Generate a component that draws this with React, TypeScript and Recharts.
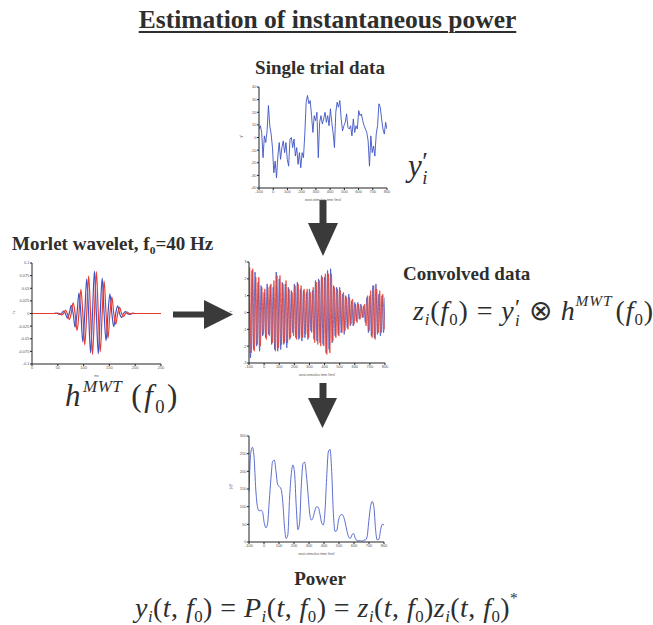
import React from "react";
import { LineChart, Line, XAxis, YAxis } from "recharts";

// tick labels
const timeTicks = [-100, 0, 100, 200, 300, 400, 500, 600, 700, 800];
const trialTicksY = [-40, -30, -20, -10, 0, 10, 20, 30, 40];
const waveletTicksX = [0, 50, 100, 150, 200, 250];
const waveletTicksY = [-0.1, -0.075, -0.05, -0.025, 0, 0.025, 0.05, 0.075, 0.1];
const convTicksY = [-3, -2, -1, 0, 1, 2, 3];
const powerTicksY = [0, 50, 100, 150, 200, 250, 300];

// single trial data, -100..800 ms
const trialValues = [
  6.7, 9.3, 4, -16, 1.3, -4, 5.3, 25.3, 9.3, 2.7,
  -8, -28, -18.7, -32, -14.7, -4, -17.3, -8, -2.7, -12,
  -4, -17.3, -22.7, -1.3, 0, -8, -1.3, -14.7, -8, -21.3,
  -12, -24, -12, -16, 2.7, 28, 33.3, 26.7, 29.3, 17.3,
  4, 17.3, 13.3, 20, -16, 12, 17.3, 10.7, 14.7, 20,
  12, 17.3, 9.3, 22.7, 12, 4, -8, 20, 28, 24,
  29.3, 14.7, 5.3, 9.3, 12, 18.7, 8, 6.7, 9.3, 1.3,
  14.7, 4, 9.3, 6.7, 21.3, 17.3, 18.7, 13.3, 9.3, 6.7,
  4, -2.7, -22.7, 1.3, -12, -6.7, -14.7, 2.7, 9.3, 26.7,
  24, 14.7, 6.7, 2.7, 12, 6.7,
];

// morlet wavelet, real (blue) and imaginary (red) part
const waveletReal = [
  0, 0, 0.001, 0, -0.002, 0, 0.005, 0, -0.009, 0,
  0.016, 0, -0.027, 0, 0.041, 0, -0.056, 0, 0.068, 0,
  -0.078, 0, 0.084, 0, -0.08, 0, 0.07, 0, -0.054, 0,
  0.039, 0, -0.026, 0, 0.015, 0, -0.008, 0, 0.004, 0,
  -0.002, 0, 0.001, 0, 0,
];
const waveletImag = [
  0, 0, 0, 0.001, 0, -0.003, 0, 0.006, 0, -0.012,
  0, 0.021, 0, -0.034, 0, 0.048, 0, -0.062, 0, 0.074,
  0, -0.081, 0, 0.083, 0, -0.076, 0, 0.064, 0, -0.049,
  0, 0.033, 0, -0.021, 0, 0.012, 0, -0.006, 0, 0.003,
  0, -0.001, 0, 0, 0,
];

// convolved data, peaks and troughs
const convReal = [
  2.6, -2.7, 2.5, -2.2, 2.4, -2.0, 1.8, -2.3, 1.6, -1.4,
  1.2, -1.5, 1.7, -1.3, 1.6, -1.9, 1.5, -2.2, 2.4, -2.3,
  2.0, -2.2, 1.8, -1.9, 1.7, -2.1, 1.5, -1.6, 1.3, -1.2,
  1.7, -1.5, 1.8, -1.6, 1.4, -1.7, 1.3, -1.5, 1.2, -1.6,
  1.4, -1.1, 1.3, -1.6, 1.9, -1.7, 2.0, -1.8, 2.2, -1.9,
  2.1, -2.4, 2.5, -2.2, 2.6, -1.8, 1.6, -1.4, 1.5, -1.3,
  1.5, -1.2, 1.1, -1.3, 1.0, -0.9, 1.1, -0.8, 0.7, -0.8,
  0.6, -0.5, 0.6, -0.4, 0.5, -0.3, 0.4, -0.6, 0.9, -1.2,
  1.0, -1.4, 1.6, -1.5, 1.7, -1.3, 1.1, -1.4, 1.0, -1.2,
  0.9,
];
const convImag = [
  2.7, -2.4, 2.6, -2.3, 2.1, -1.9, 2.1, -2.0, 1.5, -1.3,
  1.4, -1.6, 1.5, -1.4, 1.7, -1.8, 1.9, -2.3, 2.2, -2.1,
  2.2, -1.9, 1.7, -1.8, 1.9, -1.8, 1.4, -1.5, 1.2, -1.4,
  1.6, -1.6, 1.7, -1.5, 1.6, -1.5, 1.4, -1.3, 1.4, -1.5,
  1.2, -1.2, 1.5, -1.8, 1.8, -1.9, 1.9, -2.0, 2.1, -2.0,
  2.3, -2.5, 2.3, -2.4, 2.3, -1.7, 1.5, -1.5, 1.4, -1.4,
  1.3, -1.2, 1.2, -1.1, 0.9, -1.0, 0.9, -0.7, 0.8, -0.7,
  0.5, -0.6, 0.5, -0.4, 0.4, -0.3, 0.5, -0.8, 1.0, -1.1,
  1.3, -1.5, 1.6, -1.6, 1.4, -1.2, 1.3, -1.2, 1.1, -1.0,
];

// power
const powerValues = [
  143, 250, 268, 240, 150, 100, 88, 90, 85, 55,
  40, 52, 115, 180, 228, 232, 200, 162, 157, 150,
  115, 45, 10, 20, 120, 190, 218, 195, 100, 35,
  55, 160, 222, 226, 190, 135, 80, 62, 70, 88,
  100, 98, 80, 55, 48, 85, 180, 255, 262, 200,
  80, 30, 32, 60, 75, 78, 72, 55, 32, 15,
  10, 20, 24, 10, 4, 3, 4, 2, 5, 6,
  15, 60, 100, 115, 100, 35, 6, 8, 35, 50,
  48,
];

const trialData = trialValues.map((v, i) => ({ t: -100 + (i * 900) / (trialValues.length - 1), v }));
const waveletData = [
  { t: 0, re: 0, im: 0 },
  ...waveletReal.map((re, i) => ({ t: 38.5 + i * 3.75, re, im: waveletImag[i] })),
  { t: 250, re: 0, im: 0 },
];
const convData: { t: number; re?: number; im?: number }[] = [];
convReal.forEach((re, i) => {
  convData.push({ t: -100 + i * 10, re });
  if (i < convImag.length) convData.push({ t: -95 + i * 10, im: convImag[i] });
});
const powerData = powerValues.map((v, i) => ({ t: -100 + (i * 900) / (powerValues.length - 1), v }));

const serif = '"Liberation Serif", "Times New Roman", serif';
const sans = '"Liberation Sans", Arial, sans-serif';
const ink = "#2e2e2e";
const blue = "#3d52c4";
const red = "#e63b2e";

const tickStyle = { fontSize: 4, fill: "#555", fontFamily: sans };

function Panel({ left, top, w, h, data, xTicks, yTicks, xDomain, yDomain, xLabel, yLabel, children }: any) {
  const yW = 20;
  const xH = 13;
  const mt = 3;
  const mr = 6;
  return (
    <div style={{ position: "absolute", left: left - yW, top: top - mt }}>
      <LineChart width={w + yW + mr} height={h + xH + mt} data={data} margin={{ top: mt, right: mr, bottom: 0, left: 0 }}>
        <XAxis
          dataKey="t"
          type="number"
          domain={xDomain}
          ticks={xTicks}
          interval={0}
          height={xH}
          tick={tickStyle}
          tickSize={2}
          tickMargin={0.5}
          stroke="#222"
          allowDataOverflow
          label={{ value: xLabel, position: "insideBottom", offset: 0, fontSize: 3.5, fill: "#555", fontFamily: sans }}
        />
        <XAxis xAxisId="top" orientation="top" dataKey="t" type="number" domain={xDomain} height={0} tick={false} tickLine={false} stroke="#222" />
        <YAxis
          type="number"
          domain={yDomain}
          ticks={yTicks}
          interval={0}
          width={yW}
          tick={tickStyle}
          tickSize={2}
          tickMargin={0.5}
          stroke="#222"
          allowDataOverflow
          label={{ value: yLabel, angle: -90, position: "insideLeft", offset: 2, fontSize: 4, fill: "#555", fontFamily: sans }}
        />
        <YAxis yAxisId="right" orientation="right" type="number" domain={yDomain} width={0} tick={false} tickLine={false} stroke="#222" />
        {children}
      </LineChart>
    </div>
  );
}

function Label({ x, baseline, size, bold, center, children, style }: any) {
  const base: React.CSSProperties = {
    position: "absolute",
    top: baseline - 0.8375 * size,
    fontSize: size,
    lineHeight: 1,
    fontFamily: serif,
    fontWeight: bold ? "bold" : "normal",
    color: ink,
    whiteSpace: "nowrap",
  };
  const pos = center ? { left: x - 250, width: 500, textAlign: "center" as const } : { left: x };
  return <div style={{ ...base, ...pos, ...style }}>{children}</div>;
}

const I = ({ children }: any) => <span style={{ fontStyle: "italic" }}>{children}</span>;
const Sub = ({ children, it, style }: any) => (
  <span style={{ fontSize: "0.6em", position: "relative", top: "0.35em", fontStyle: it ? "italic" : "normal", ...style }}>{children}</span>
);
const Sup = ({ children, it, style }: any) => (
  <span style={{ fontSize: "0.55em", position: "relative", top: "-0.85em", fontStyle: it ? "italic" : "normal", ...style }}>{children}</span>
);
const F0 = () => (
  <>
    <I>f</I>
    <Sub>0</Sub>
  </>
);
const TF = () => (
  <>
    (<I>t</I>, <F0 />)
  </>
);
// y with a prime above and subscript i below it
const YPrime = () => (
  <>
    <I>y</I>
    <span style={{ display: "inline-flex", flexDirection: "column", fontSize: "0.6em", lineHeight: 0.85, verticalAlign: "0.3em", marginLeft: "0.02em" }}>
      <span style={{ fontSize: "1.4em", lineHeight: 0.6 }}>′</span>
      <span style={{ fontStyle: "italic" }}>i</span>
    </span>
  </>
);

function Arrows() {
  return (
    <svg width={653} height={625} style={{ position: "absolute", left: 0, top: 0 }}>
      <g fill="#3a3a3a">
        <rect x={319.5} y={200} width={7} height={25} />
        <polygon points="308,223 338,223 323,256" />
        <rect x={173} y={311.5} width={34} height={6} />
        <polygon points="204,300 204,329 233,314.5" />
        <rect x={319.5} y={383} width={7} height={17} />
        <polygon points="308,398 337,398 322.5,428" />
      </g>
    </svg>
  );
}

export default function App() {
  return (
    <div style={{ position: "absolute", left: 0, top: 0, width: 653, height: 625, background: "#fff", overflow: "hidden" }}>
      <Arrows />
      <Label x={327.5} baseline={28} size={25.5} bold center style={{ textDecoration: "underline", textDecorationThickness: 1.5, textUnderlineOffset: 3 }}>
        Estimation of instantaneous power
      </Label>
      <Label x={320} baseline={74} size={19} bold center>
        Single trial data
      </Label>
      <Label x={12} baseline={250} size={19} bold>
        Morlet wavelet, f<Sub>0</Sub>=40 Hz
      </Label>
      <Label x={403} baseline={280} size={19} bold>
        Convolved data
      </Label>
      <Label x={320} baseline={585} size={19} bold center>
        Power
      </Label>

      <Label x={408} baseline={176} size={31}>
        <YPrime />
      </Label>
      <Label x={65} baseline={406} size={31} style={{ letterSpacing: 2.5 }}>
        <I>h</I>
        <Sup it style={{ marginRight: 9, letterSpacing: 0.5 }}>MWT</Sup>(<F0 />)
      </Label>
      <Label x={413} baseline={320} size={28} style={{ letterSpacing: 0.9 }}>
        <I>z</I>
        <Sub it>i</Sub>(<F0 />) = <YPrime /> ⊗ <I>h</I>
        <Sup it style={{ marginRight: 3 }}>MWT</Sup>(<F0 />)
      </Label>
      <Label x={135} baseline={617} size={28} style={{ letterSpacing: 0.45 }}>
        <I>y</I>
        <Sub it>i</Sub>
        <TF /> = <I>P</I>
        <Sub it>i</Sub>
        <TF /> = <I>z</I>
        <Sub it>i</Sub>
        <TF />
        <I>z</I>
        <Sub it>i</Sub>
        <TF />
        <Sup>*</Sup>
      </Label>

      <Panel left={259} top={87} w={128} h={101} data={trialData} xTicks={timeTicks} yTicks={trialTicksY} xDomain={[-100, 800]} yDomain={[-40, 40]} xLabel="post-stimulus time [ms]" yLabel="y'">
        <Line dataKey="v" type="linear" stroke={blue} strokeWidth={0.9} dot={false} isAnimationActive={false} />
      </Panel>

      <Panel left={32} top={263} w={129} h={101} data={waveletData} xTicks={waveletTicksX} yTicks={waveletTicksY} xDomain={[0, 250]} yDomain={[-0.1, 0.1]} xLabel="ms" yLabel="h">
        <Line dataKey="re" type="monotone" stroke={blue} strokeWidth={1.2} dot={false} isAnimationActive={false} />
        <Line dataKey="im" type="monotone" stroke={red} strokeWidth={1.2} dot={false} isAnimationActive={false} />
      </Panel>

      <Panel left={249} top={262} w={136} h={101} data={convData} xTicks={timeTicks} yTicks={convTicksY} xDomain={[-100, 800]} yDomain={[-3, 3]} xLabel="post-stimulus time [ms]" yLabel="z">
        <Line dataKey="re" type="monotone" connectNulls stroke={blue} strokeWidth={0.8} dot={false} isAnimationActive={false} />
        <Line dataKey="im" type="monotone" connectNulls stroke={red} strokeWidth={0.8} dot={false} isAnimationActive={false} />
      </Panel>

      <Panel left={249} top={436} w={135} h={106} data={powerData} xTicks={timeTicks} yTicks={powerTicksY} xDomain={[-100, 800]} yDomain={[0, 300]} xLabel="post-stimulus time [ms]" yLabel="|z|²">
        <Line dataKey="v" type="monotone" stroke="#4a5cc8" strokeWidth={0.9} dot={false} isAnimationActive={false} />
      </Panel>
    </div>
  );
}
